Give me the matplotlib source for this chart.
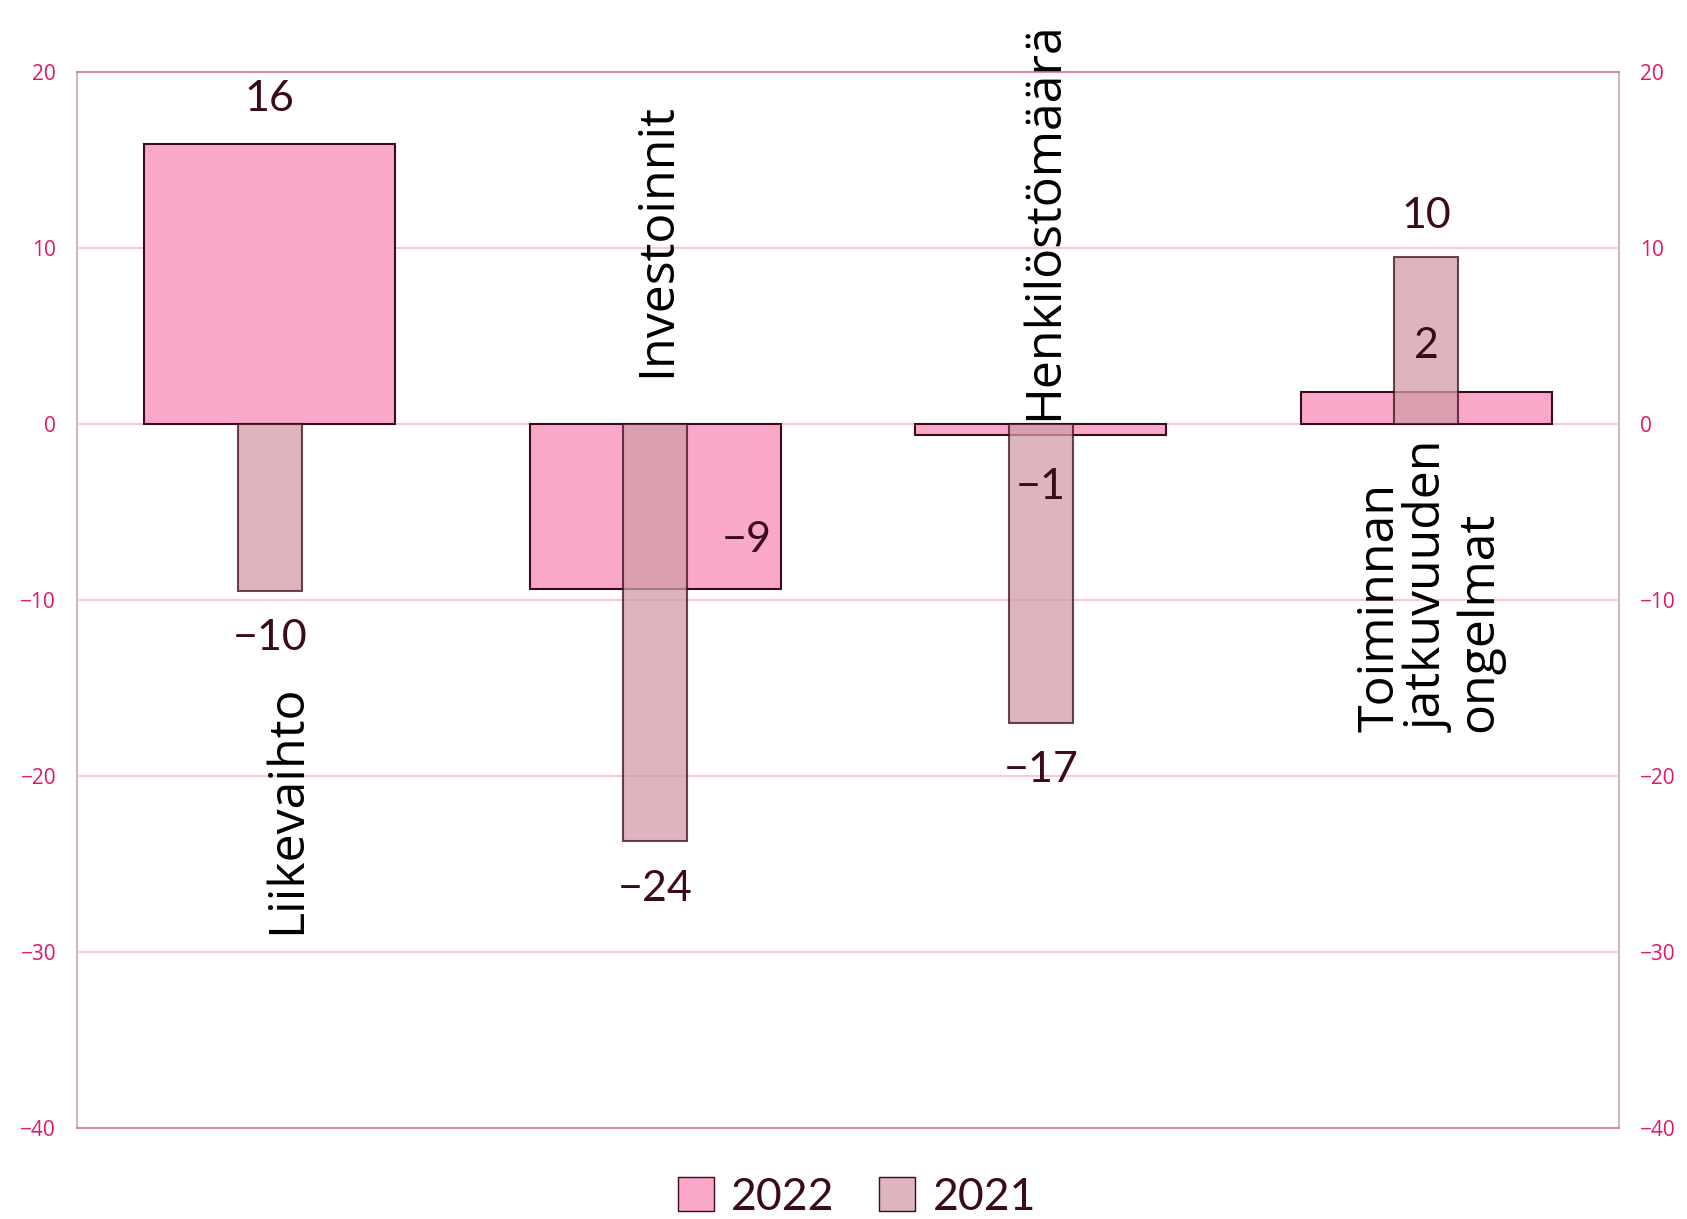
import matplotlib.pyplot as plt
import numpy as np
from matplotlib.patches import Patch

categories = ["Liikevaihto", "Investoinnit", "Henkilöstömäärä",
              "Toiminnan\njatkuvuuden\nongelmat"]
values_2022 = [15.9, -9.4, -0.6, 1.8]
values_2021 = [-9.5, -23.7, -17.0, 9.5]
yticks = [20, 10, 0, -10, -20, -30, -40]

col_2022 = "#F9A8C9"
col_2021 = "#D39CA8"
edge = "#3A0A1C"
tick_col = "#E0186C"
txt_col = "#3A0A1C"
font = "Lato"
cat_font = "Open Sans"

fig = plt.figure(figsize=(16.87, 12.19), dpi=100)
ax = fig.add_axes([0.0456, 0.0746, 0.9141, 0.8664])

x = np.arange(len(categories))
b22 = ax.bar(x, values_2022, width=0.65, color=col_2022, edgecolor=edge,
             linewidth=1.5, zorder=2)
b21 = ax.bar(x, values_2021, width=0.166, color=col_2021, alpha=0.75,
             edgecolor=edge, linewidth=1.5, zorder=3)

ax.set_xlim(-0.5, len(categories) - 0.5)
ax.set_ylim(-40, 20)
ax.set_yticks(yticks)
ax.set_xticks([])
ax.yaxis.grid(True, color="#FFC3DC", linewidth=1.5, zorder=0)
ax.tick_params(axis="y", length=0, pad=15, labelsize=15, labelcolor=tick_col,
               labelright=True)
for t in ax.yaxis.get_major_ticks():
    t.label1.set_family("Open Sans")
    t.label2.set_family("Open Sans")
ax.spines["top"].set_color("#D98BAA")
ax.spines["bottom"].set_color("#D98BAA")
ax.spines["left"].set_color("#D4B8C0")
ax.spines["right"].set_color("#D4B8C0")
for s in ax.spines.values():
    s.set_linewidth(1.5)

# data labels (pixel offsets from bar end)
labels = [
    (0, values_2022[0], "16", 0, 45),
    (0, values_2021[0], "-10", 0, -47),
    (1, values_2022[1], "-9", 92, 49),
    (1, values_2021[1], "-24", 0, -48),
    (2, values_2022[2], "-1", 0, -52),
    (2, values_2021[2], "-17", 0, -47),
    (3, values_2021[3], "10", 0, 41),
    (3, values_2022[3], "2", 0, 46),
]
for xi, v, t, dx, dy in labels:
    ax.annotate(t.replace("-", "\u2212"), (xi, v), xytext=(dx, dy),
                textcoords="offset pixels", ha="center", va="center",
                fontsize=31, color=txt_col, family=font, zorder=5)

# rotated category labels
cat_pos = [(0.047, -29.0), (0.005, 2.67), (0.01, 0.23), (0.01, -17.5)]
for i, (c, (dx, y)) in enumerate(zip(categories, cat_pos)):
    ax.text(i + dx, y, c, rotation=90, ha="center", va="bottom",
            multialignment="left", fontsize=36, color="black",
            family=cat_font, linespacing=1.0, zorder=6, clip_on=False)

handles = [Patch(facecolor=col_2022, edgecolor=edge, label="2022"),
           Patch(facecolor="#DEB5BE", edgecolor=edge, label="2021")]
leg = fig.legend(handles=handles, loc="center", bbox_to_anchor=(0.508, 0.018),
                 ncol=2, frameon=False, fontsize=32, handlelength=0.8,
                 handleheight=0.8, handletextpad=0.4, columnspacing=1.0)
for t in leg.get_texts():
    t.set_color(txt_col)
    t.set_family(font)

fig.savefig("out.png", dpi=100)
